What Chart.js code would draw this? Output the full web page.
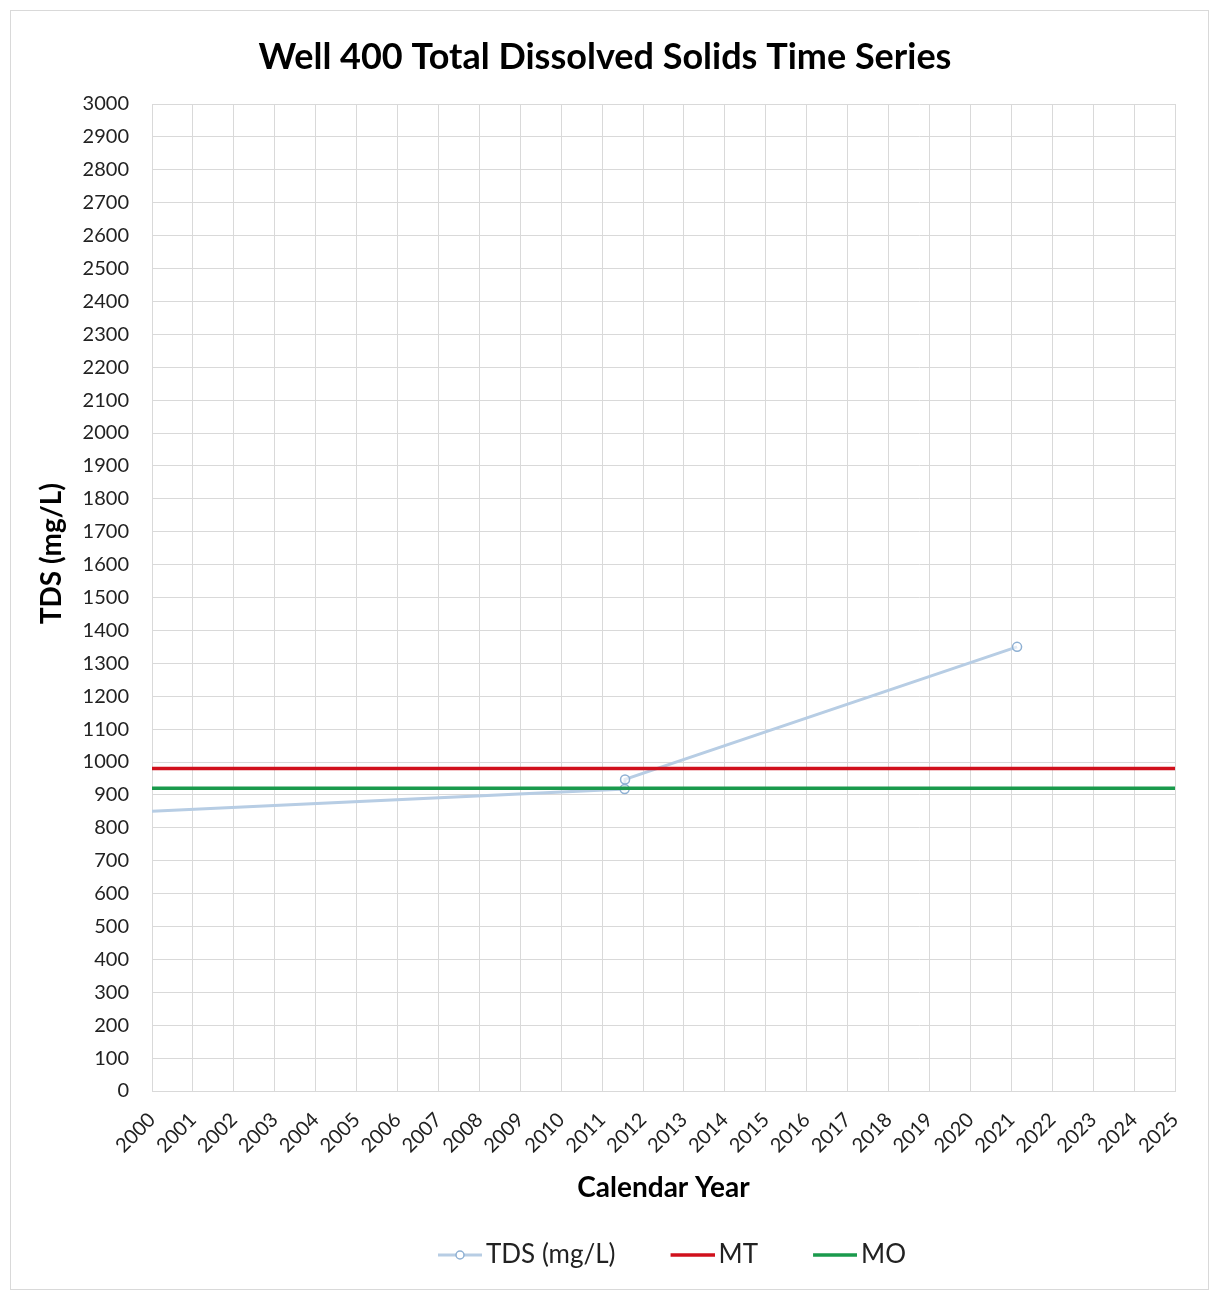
<!DOCTYPE html>
<html><head><meta charset="utf-8">
<script src="https://cdn.jsdelivr.net/npm/chart.js@4.4.1/dist/chart.umd.min.js"></script>
<style>html,body{margin:0;padding:0;background:#fff;} #wrap{width:1209px;height:1292px;position:relative;}</style>
</head><body><div id="wrap"><canvas id="c"></canvas></div>
<script>
const chartTitle = 'Well 400 Total Dissolved Solids Time Series';
const seriesNames = ['TDS (mg/L)', 'MT', 'MO'];
const tdsYears = [1990.0, 2011.55, 2011.56, 2021.14];
const tdsValues = [792, 918, 947, 1350];
const thresholdYears = [2000, 2025];
const mtValues = [980, 980];
const moValues = [920, 920];
const xRange = [2000, 2025];
const xStep = 1;
const yRange = [0, 3000];
const yStep = 100;
const xTitle = 'Calendar Year';
const yTitle = 'TDS (mg/L)';

const FONT = 'Lato, "DejaVu Sans", sans-serif';
const LEGEND_SIZE = 26;
const colors = { tds: '#b7cde4', tdsPoint: '#8eb0d3', mt: '#d0101c', mo: '#1a9a4c', grid: '#d9d9d9' };

function pts(xs, ys) { return xs.map((x, i) => ({ x: x, y: ys[i] })); }

// legend icon: blank on the left (item spacing), 44px line ending 9px past the box
function legendIcon(color, width, marker) {
  const c = document.createElement('canvas');
  c.width = 98; c.height = 14;
  const g = c.getContext('2d');
  g.strokeStyle = color; g.lineWidth = width;
  g.beginPath(); g.moveTo(54, 7); g.lineTo(98, 7); g.stroke();
  if (marker) {
    g.fillStyle = '#fff'; g.strokeStyle = colors.tdsPoint; g.lineWidth = 1.5;
    g.beginPath(); g.arc(76, 7, 4, 0, Math.PI * 2); g.fill(); g.stroke();
  }
  return c;
}
const icons = [legendIcon(colors.tds, 3, true), legendIcon(colors.mt, 3.5, false), legendIcon(colors.mo, 3.5, false)];

const borderPlugin = {
  id: 'outerBorder',
  beforeDraw(chart) {
    const ctx = chart.ctx;
    ctx.save();
    ctx.fillStyle = '#fff';
    ctx.fillRect(0, 0, chart.width, chart.height);
    ctx.strokeStyle = '#d9d9d9'; ctx.lineWidth = 1;
    ctx.strokeRect(10.5, 10.5, 1198, 1279);
    ctx.restore();
  }
};

const boxShift = {
  id: 'boxShift',
  afterLayout(chart) {
    const tb = chart.titleBlock;
    if (tb) { tb.left += 12; tb.right += 12; }
    const lg = chart.legend;
    if (!lg) return;
    const ctx = chart.ctx;
    ctx.save();
    ctx.font = LEGEND_SIZE + 'px ' + FONT;
    const pad = 10, box = 80;
    const widths = chart.data.datasets.map(d => box + LEGEND_SIZE / 2 + ctx.measureText(d.label).width);
    ctx.restore();
    const total = widths.reduce((a, b) => a + b, 0) + pad * (widths.length - 1);
    const center = (lg.left + lg.right) / 2;
    const visStart = center - total / 2 + 45;
    const visEnd = center + total / 2;
    const shift = 672 - (visStart + visEnd) / 2;
    lg.left += shift; lg.right += shift;
  }
};

new Chart(document.getElementById('c'), {
  type: 'scatter',
  data: {
    datasets: [
      { label: seriesNames[0], data: pts(tdsYears, tdsValues), showLine: true,
        borderColor: colors.tds, borderWidth: 3, pointRadius: 4.5, pointBorderWidth: 1.5,
        pointBorderColor: colors.tdsPoint, pointBackgroundColor: 'rgba(255,255,255,0.6)', order: 3 },
      { label: seriesNames[1], data: pts(thresholdYears, mtValues), showLine: true,
        borderColor: colors.mt, borderWidth: 3.5, pointRadius: 0, order: 1 },
      { label: seriesNames[2], data: pts(thresholdYears, moValues), showLine: true,
        borderColor: colors.mo, borderWidth: 3.5, pointRadius: 0, order: 2 }
    ]
  },
  options: {
    responsive: true,
    maintainAspectRatio: false,
    animation: false,
    layout: { padding: { left: 10, top: 10, right: 33, bottom: 14 } },
    plugins: {
      title: { display: true, text: chartTitle, color: '#000',
        font: { family: FONT, size: 36, weight: 'bold', lineHeight: 1.2 },
        padding: { top: 25.4, bottom: 25.4 } },
      legend: { position: 'bottom',
        labels: { usePointStyle: true, pointStyleWidth: 80, padding: 10,
          color: '#222', font: { family: FONT, size: LEGEND_SIZE },
          generateLabels(chart) {
            return chart.data.datasets.map((d, i) => ({ text: d.label, pointStyle: icons[i],
              datasetIndex: i, fillStyle: 'transparent', strokeStyle: 'transparent', lineWidth: 0, fontColor: '#222' }));
          } } },
      tooltip: { enabled: false }
    },
    scales: {
      x: { type: 'linear', min: xRange[0], max: xRange[1],
        afterFit(s) { s.height = 141; },
        grid: { color: colors.grid, drawTicks: false },
        border: { color: colors.grid },
        ticks: { stepSize: xStep, maxRotation: 45, minRotation: 45, padding: 17, color: '#222',
          font: { family: FONT, size: 20 }, callback: v => String(v) },
        title: { display: true, text: xTitle, color: '#000',
          font: { family: FONT, size: 28, weight: 'bold', lineHeight: 1.2 }, padding: { top: 4, bottom: 27.2 } } },
      y: { min: yRange[0], max: yRange[1],
        afterFit(s) { s.width = 142; },
        grid: { color: colors.grid, drawTicks: false },
        border: { color: colors.grid },
        ticks: { stepSize: yStep, padding: 23, color: '#222', font: { family: FONT, size: 20 },
          callback: v => String(v) },
        title: { display: true, text: '\u00A0'.repeat(13) + yTitle, color: '#000',
          font: { family: FONT, size: 28, weight: 'bold', lineHeight: 1.2 }, padding: { top: 25.2, bottom: 4 } } }
    }
  },
  plugins: [borderPlugin, boxShift]
});
</script></body></html>
